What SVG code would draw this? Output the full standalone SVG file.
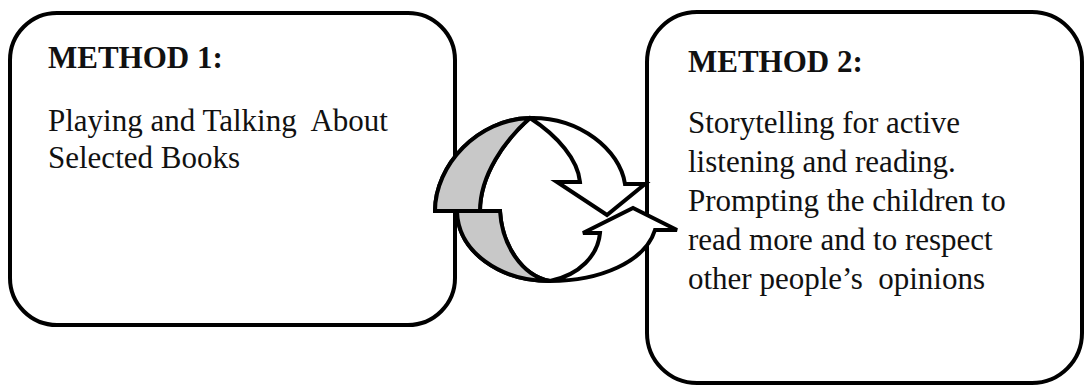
<svg xmlns="http://www.w3.org/2000/svg" width="1084" height="387" viewBox="0 0 1084 387">
<style>
.box{fill:#fff;stroke:#000;stroke-width:4}
.arr{fill:#fff;stroke:#000;stroke-width:4;stroke-linejoin:miter}
.back{fill:#c8c8c8;stroke:#000;stroke-width:4;stroke-linejoin:miter}
.h{font-family:"Liberation Serif",serif;font-weight:bold;font-size:31px;fill:#111}
.t{font-family:"Liberation Serif",serif;font-size:31px;fill:#111;white-space:pre}
</style>
<rect width="1084" height="387" fill="#fff"/>
<g id="method1">
<rect class="box" x="10" y="13" width="445" height="312" rx="47" ry="47"/>
<text class="h" x="48" y="68">METHOD 1:</text>
<text class="t" x="48" y="131">Playing and Talking  About</text>
<text class="t" x="48" y="168">Selected Books</text>
</g>
<g id="method2">
<rect class="box" x="647" y="12" width="435" height="371" rx="50" ry="50"/>
<text class="h" x="688" y="72">METHOD 2:</text>
<text class="t" x="688" y="133">Storytelling for active</text>
<text class="t" x="688" y="172">listening and reading.</text>
<text class="t" x="688" y="211">Prompting the children to</text>
<text class="t" x="688" y="250">read more and to respect</text>
<text class="t" x="688" y="289">other people’s  opinions</text>
</g>
<g id="connectors">
<g id="lower-arrow">
<path class="arr" d="M457,211 C458,252 500,281 550,281 C600,281 645,262 655,230 L677,230 L633,208 L583,233 L600,233 C598,255 580,275 550,281 C522,276 502,245 500,211 Z"/>
<path class="back" d="M457,211 C458,252 500,281 550,281 C522,276 502,245 500,211 Z"/>
</g>
<g id="upper-arrow">
<path class="arr" d="M435,211 C435,165 478,119 530,118 C580,117 620,150 625,184 L645,184 L607,215 L557,182 L580,182 C578,160 558,136 530,118 C505,140 480,175 480,211 Z"/>
<path class="back" d="M435,211 C435,165 478,119 530,118 C505,140 480,175 480,211 Z"/>
</g>
</g>
</svg>
